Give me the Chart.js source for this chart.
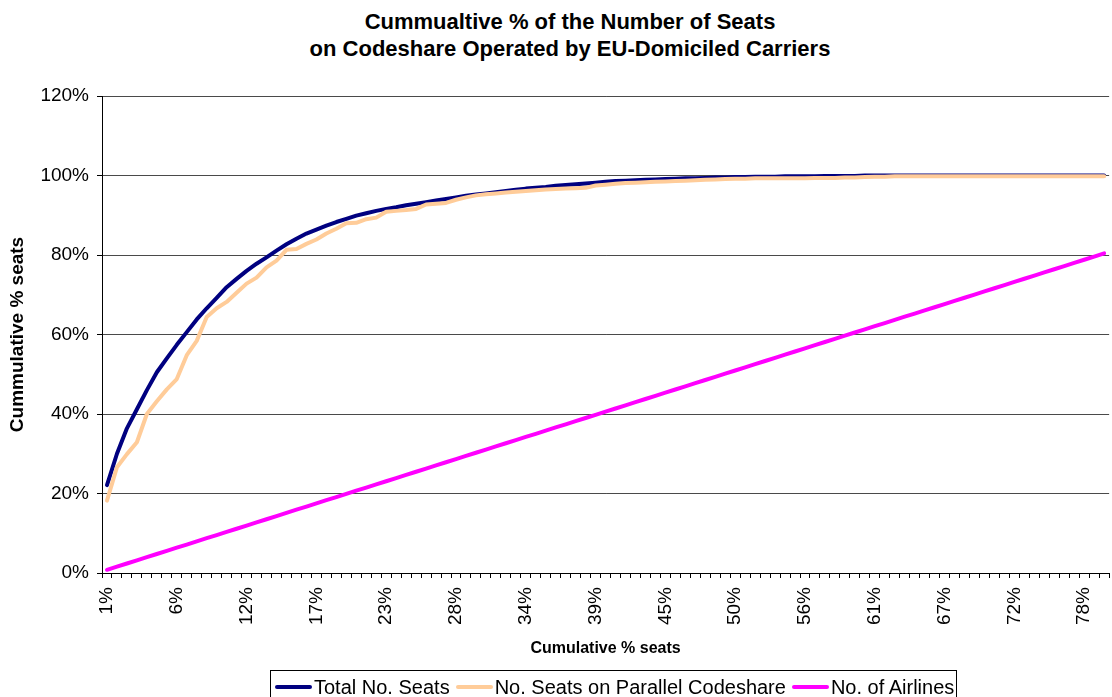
<!DOCTYPE html>
<html>
<head>
<meta charset="utf-8">
<title>Cumulative seats on codeshare</title>
<script src="https://cdn.jsdelivr.net/npm/chart.js@4.4.1/dist/chart.umd.min.js"></script>
<style>
  html, body { margin: 0; padding: 0; background: #fff; overflow: hidden; }
  body { width: 1112px; height: 697px; position: relative; font-family: "Liberation Sans", Arial, sans-serif; color: #000; }
  #title { position: absolute; left: 0; top: 8px; width: 1140px; text-align: center; font-weight: bold; font-size: 22px; line-height: 27px; }
  #chart { position: absolute; left: 0; top: 0; }
  #legend { position: absolute; left: 270px; top: 670px; height: 32px; border: 1px solid #000; display: flex; align-items: center; padding: 0 2px 0 4px; font-size: 20px; white-space: nowrap; }
  .item { display: flex; align-items: center; margin-right: 6px; }
  .item:last-child { margin-right: 0; }
  .swatch { width: 37px; height: 4px; margin-right: 2px; border-radius: 2px; }
</style>
</head>
<body>
<div id="title">Cummualtive % of the Number of Seats<br>on Codeshare Operated by EU-Domiciled Carriers</div>
<canvas id="chart" width="1136" height="697"></canvas>
<div id="legend"></div>
<script>
// cumulative % of seats, one value per airline (sorted by size)
const totalSeats = [
  22.1, 30.0, 36.4, 41.2, 46.0, 50.5, 54.0, 57.4, 60.6, 63.8,
  66.6, 69.2, 71.9, 74.0, 76.0, 77.8, 79.4, 81.1, 82.7, 84.1,
  85.4, 86.4, 87.4, 88.3, 89.1, 89.9, 90.5, 91.1, 91.6, 92.0,
  92.5, 92.9, 93.3, 93.7, 94.1, 94.5, 94.9, 95.2, 95.5, 95.8,
  96.1, 96.4, 96.7, 96.9, 97.1, 97.4, 97.6, 97.8, 98.0, 98.2,
  98.4, 98.6, 98.7, 98.8, 98.9, 99.0, 99.1, 99.2, 99.3, 99.3,
  99.4, 99.5, 99.5, 99.6, 99.6, 99.7, 99.7, 99.7, 99.8, 99.8,
  99.8, 99.8, 99.9, 99.9, 99.9, 99.9, 100, 100, 100, 100,
  100, 100, 100, 100, 100, 100, 100, 100, 100, 100,
  100, 100, 100, 100, 100, 100, 100, 100, 100, 100,
  100
];

const parallelSeats = [
  18.2, 26.6, 29.9, 32.9, 40.0, 43.2, 46.2, 48.8, 54.8, 58.4,
  64.4, 66.6, 68.2, 70.5, 72.8, 74.3, 76.9, 78.6, 81.3, 81.5,
  82.8, 83.9, 85.4, 86.6, 88.0, 88.1, 89.0, 89.4, 90.9, 91.1,
  91.3, 91.6, 92.7, 92.9, 93.1, 93.9, 94.5, 95.0, 95.3, 95.5,
  95.7, 95.9, 96.1, 96.3, 96.5, 96.6, 96.7, 96.8, 96.9, 97.5,
  97.7, 97.9, 98.1, 98.2, 98.3, 98.4, 98.5, 98.6, 98.7, 98.8,
  98.9, 99.0, 99.1, 99.2, 99.2, 99.3, 99.3, 99.3, 99.3, 99.3,
  99.3, 99.4, 99.4, 99.4, 99.5, 99.5, 99.6, 99.7, 99.7, 99.8,
  99.8, 99.8, 99.8, 99.8, 99.8, 99.8, 99.8, 99.8, 99.8, 99.8,
  99.8, 99.8, 99.8, 99.8, 99.8, 99.8, 99.8, 99.8, 99.8, 99.8,
  99.8
];

// cumulative % of airlines
const airlines = [
  0.80, 1.59, 2.39, 3.18, 3.98, 4.78, 5.57, 6.37, 7.16, 7.96,
  8.76, 9.55, 10.35, 11.14, 11.94, 12.74, 13.53, 14.33, 15.12, 15.92,
  16.72, 17.51, 18.31, 19.10, 19.90, 20.70, 21.49, 22.29, 23.08, 23.88,
  24.68, 25.47, 26.27, 27.06, 27.86, 28.66, 29.45, 30.25, 31.04, 31.84,
  32.64, 33.43, 34.23, 35.02, 35.82, 36.62, 37.41, 38.21, 39.00, 39.80,
  40.60, 41.39, 42.19, 42.98, 43.78, 44.58, 45.37, 46.17, 46.96, 47.76,
  48.56, 49.35, 50.15, 50.94, 51.74, 52.54, 53.33, 54.13, 54.92, 55.72,
  56.52, 57.31, 58.11, 58.90, 59.70, 60.50, 61.29, 62.09, 62.88, 63.68,
  64.48, 65.27, 66.07, 66.86, 67.66, 68.46, 69.25, 70.05, 70.84, 71.64,
  72.44, 73.23, 74.03, 74.82, 75.62, 76.42, 77.21, 78.01, 78.80, 79.60,
  80.40
];

// only every 7th category gets a label
const xTickLabels = ['1%', '6%', '12%', '17%', '23%', '28%', '34%', '39%', '45%', '50%', '56%', '61%', '67%', '72%', '78%'];
const labelStep = 7;

const seriesNames = ['Total No. Seats', 'No. Seats on Parallel Codeshare', 'No. of Airlines'];
const seriesColors = ['#000080', '#FFCC99', '#FF00FF'];

const categories = totalSeats.map((_, i) => (i % labelStep === 0 ? xTickLabels[i / labelStep] : ''));

const family = '"Liberation Sans", Arial, sans-serif';

new Chart(document.getElementById('chart'), {
  type: 'line',
  data: {
    labels: categories,
    datasets: [
      { label: seriesNames[0], data: totalSeats, borderColor: seriesColors[0], order: 3 },
      { label: seriesNames[1], data: parallelSeats, borderColor: seriesColors[1], order: 2 },
      { label: seriesNames[2], data: airlines, borderColor: seriesColors[2], order: 1 },
    ],
  },
  options: {
    responsive: false,
    animation: false,
    layout: { padding: { top: 96, right: 12, bottom: 37, left: 0 } },
    plugins: {
      legend: { display: false },
      title: { display: false },
      tooltip: { enabled: false },
    },
    elements: {
      point: { radius: 0 },
      line: { tension: 0, borderWidth: 4, borderCapStyle: 'round', borderJoinStyle: 'round', fill: false },
    },
    scales: {
      x: {
        offset: true,
        border: { color: '#000', width: 1 },
        grid: { offset: true, drawOnChartArea: false, drawTicks: true, tickLength: 5, color: '#000', tickColor: '#000' },
        ticks: {
          autoSkip: false,
          minRotation: 90,
          maxRotation: 90,
          padding: 9,
          color: '#000',
          font: { family: family, size: 19 },
        },
        title: {
          display: true,
          text: 'Cumulative % seats',
          color: '#000',
          font: { family: family, size: 16, weight: 'bold' },
          padding: { top: 4, bottom: 2 },
        },
        afterFit: (s) => { s.height = 87; },
      },
      y: {
        min: 0,
        max: 120,
        border: { color: '#000', width: 1 },
        grid: { color: '#4a4a4a', lineWidth: 1, drawTicks: true, tickLength: 5, tickColor: '#000' },
        ticks: {
          stepSize: 20,
          padding: 8,
          color: '#000',
          font: { family: family, size: 19 },
          callback: (v) => v + '%',
        },
        title: {
          display: true,
          text: 'Cummulative % seats',
          color: '#000',
          font: { family: family, size: 19, weight: 'bold' },
          padding: { top: 6, bottom: 0 },
        },
        afterFit: (s) => { s.width = 102; },
      },
    },
  },
});

// legend built from the same series names and colours
const legend = document.getElementById('legend');
seriesNames.forEach((name, i) => {
  const item = document.createElement('span');
  item.className = 'item';
  const sw = document.createElement('span');
  sw.className = 'swatch';
  sw.style.background = seriesColors[i];
  item.appendChild(sw);
  item.appendChild(document.createTextNode(name));
  legend.appendChild(item);
});
</script>
</body>
</html>
